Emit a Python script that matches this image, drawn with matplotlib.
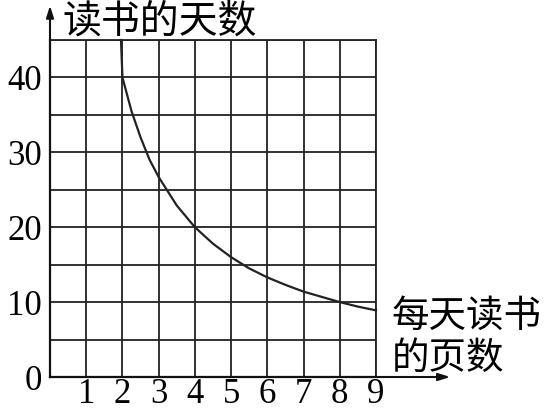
import matplotlib
matplotlib.use("Agg")
import matplotlib.pyplot as plt

# values
pages = [1.96, 2.0, 2.25, 2.5, 2.75, 3.0, 3.5, 4.0, 4.5, 5.0, 5.5, 6.0, 6.5, 7.0, 7.5, 8.0, 8.5, 9.0]
days = [45.0, 40.0, 35.5, 32.0, 29.0, 26.7, 22.9, 20.0, 17.8, 16.0, 14.5, 13.3, 12.3, 11.4, 10.7, 10.0, 9.4, 8.9]
x_ticks = [1, 2, 3, 4, 5, 6, 7, 8, 9]
y_ticks = [0, 10, 20, 30, 40]
y_minor = [5, 15, 25, 35, 45]
y_title = "读书的天数"
x_title_lines = ["每天读书", "的页数"]

W, H = 545, 412
fig = plt.figure(figsize=(W / 100, H / 100), dpi=100)
x0, x9 = 50, 376
y0, y45 = 377, 40
ax = fig.add_axes([x0 / W, (H - y0) / H, (x9 - x0) / W, (y0 - y45) / H])
ax.set_xlim(0, 9)
ax.set_ylim(0, 45)

ax.set_xticks(x_ticks)
ax.set_yticks(y_ticks)
ax.set_yticks(y_minor, minor=True)
ax.tick_params(which="both", length=0)
ax.tick_params(axis="x", pad=0.5)
ax.tick_params(axis="y", pad=6)
for lab in ax.get_xticklabels() + ax.get_yticklabels():
    lab.set_fontfamily("Liberation Serif")
    lab.set_fontsize(25)
ax.grid(True, which="both", color="#222222", lw=1.3)

for s in ["top", "right"]:
    ax.spines[s].set_linewidth(1.3)
    ax.spines[s].set_color("#222222")
for s in ["left", "bottom"]:
    ax.spines[s].set_linewidth(1.6)
    ax.spines[s].set_color("#111111")

ax.plot(pages, days, color="#222222", lw=1.6, clip_on=False)

# axis arrows
ax.annotate("", xy=(11.05, 0), xytext=(9, 0), xycoords="data",
            arrowprops=dict(arrowstyle="-|>,head_length=0.7,head_width=0.22",
                            color="#111111", lw=1.5, shrinkA=0, shrinkB=0),
            annotation_clip=False)
ax.annotate("", xy=(0, 49.6), xytext=(0, 45), xycoords="data",
            arrowprops=dict(arrowstyle="-|>,head_length=0.7,head_width=0.22",
                            color="#111111", lw=1.5, shrinkA=0, shrinkB=0),
            annotation_clip=False)

cjk = ["Noto Sans CJK SC", "DejaVu Sans"]
fig.text(62 / W, 1 - 22 / H, y_title, fontsize=28, family=cjk, ha="left", va="center")
fig.text(392 / W, 1 - 316 / H, x_title_lines[0], fontsize=27, family=cjk, ha="left", va="center")
fig.text(392 / W, 1 - 358 / H, x_title_lines[1], fontsize=27, family=cjk, ha="left", va="center")

fig.savefig("out.png", dpi=100)
